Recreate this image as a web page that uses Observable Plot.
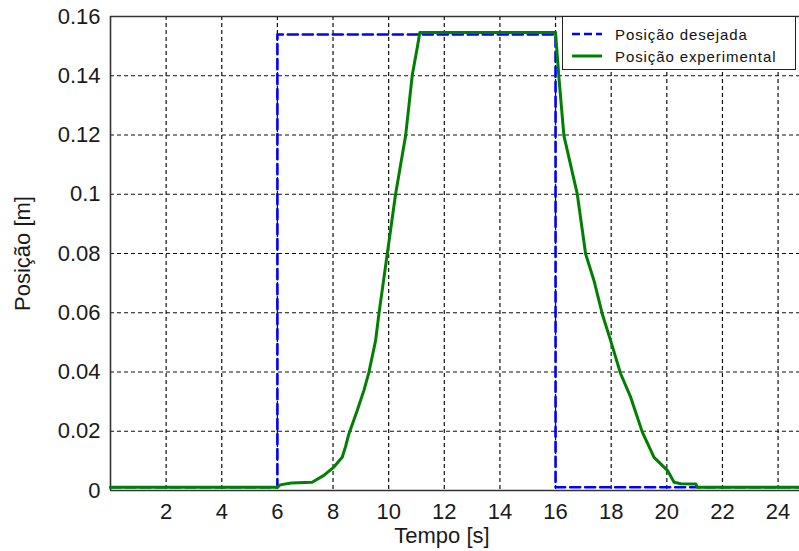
<!DOCTYPE html>
<html><head><meta charset="utf-8">
<script src="https://cdn.jsdelivr.net/npm/d3@7"></script>
<script src="https://cdn.jsdelivr.net/npm/@observablehq/plot@0.6"></script>
<style>
html,body{margin:0;padding:0;background:#fff;}
#wrap{position:relative;width:799px;height:551px;overflow:hidden;font-family:"Liberation Sans",Arial,sans-serif;}
#legend{position:absolute;left:562px;top:16px;width:232px;height:52px;border:1.5px solid #222;background:#fff;}
.row{position:absolute;left:0;height:20px;display:flex;align-items:center;font-size:15px;color:#111;letter-spacing:0.9px;white-space:nowrap;}
.row svg{margin-left:9px;margin-right:13px;}
</style></head>
<body><div id="wrap"></div>
<script>
const tempoDesejada = [0, 6, 6, 16, 16, 24.77];
const posDesejada   = [0.0011, 0.0011, 0.1539, 0.1539, 0.0011, 0.0011];

const tempoExp = [0, 6.0, 6.1, 6.5, 7.25, 7.67, 8.03, 8.33, 8.45, 8.57, 8.87, 9.11, 9.29, 9.53, 9.65, 9.95, 10.25, 10.61, 10.85, 11.03, 11.12,
  16.0, 16.12, 16.3, 16.78, 17.08, 17.38, 17.68, 17.98, 18.34, 18.7, 19.12, 19.54, 20.02, 20.26, 20.5, 21.04, 21.1, 24.77];
const posExp = [0.0011, 0.0011, 0.0019, 0.0025, 0.0028, 0.0051, 0.0079, 0.0112, 0.0148, 0.0191, 0.027, 0.0338, 0.0399, 0.0506, 0.0596, 0.0799, 0.1001, 0.1198, 0.1403, 0.1496, 0.1546,
  0.1546, 0.1395, 0.1198, 0.1001, 0.0799, 0.0709, 0.0596, 0.0506, 0.0394, 0.0315, 0.0197, 0.0112, 0.0068, 0.0028, 0.0023, 0.0022, 0.0011, 0.0011];

const xTicks = [2, 4, 6, 8, 10, 12, 14, 16, 18, 20, 22, 24];
const yTicks = [0, 0.02, 0.04, 0.06, 0.08, 0.1, 0.12, 0.14, 0.16];
const yTickLabels = ["0", "0.02", "0.04", "0.06", "0.08", "0.1", "0.12", "0.14", "0.16"];
const xDomain = [0, 24.77];
const yDomain = [0, 0.16];
const seriesNames = ["Posição desejada", "Posição experimental"];
const seriesColors = ["#0000ff", "#008000"];

const desejada = tempoDesejada.map((t, i) => ({t, p: posDesejada[i]}));
const experimental = tempoExp.map((t, i) => ({t, p: posExp[i]}));

const plot = Plot.plot({
  width: 799, height: 551,
  marginLeft: 110, marginRight: 0, marginTop: 16, marginBottom: 61,
  style: {fontFamily: '"Liberation Sans", Arial, sans-serif', fontSize: "22px", color: "#1a1a1a", background: "#fff"},
  x: {domain: xDomain},
  y: {domain: yDomain},
  marks: [
    Plot.gridX(xTicks, {stroke: "#111", strokeOpacity: 1, strokeWidth: 1.2, strokeDasharray: "4,3"}),
    Plot.gridY(yTicks.slice(1, -1), {stroke: "#111", strokeOpacity: 1, strokeWidth: 1.2, strokeDasharray: "4,3"}),
    Plot.ruleY([yDomain[0]], {stroke: "#333", strokeWidth: 1.6}),
    Plot.ruleY([yDomain[1]], {stroke: "#333", strokeWidth: 1.6}),
    Plot.ruleX([xDomain[0]], {stroke: "#333", strokeWidth: 1.6}),
    Plot.axisX(xTicks, {tickSize: 0, tickPadding: 13, label: "Tempo [s]", labelAnchor: "center", labelArrow: "none", labelOffset: 52}),
    Plot.axisY(yTicks, {tickSize: 0, tickPadding: 10, tickFormat: (d, i) => yTickLabels[i], label: "Posição [m]", labelAnchor: "center", labelArrow: "none", labelOffset: 96}),
    Plot.line(desejada, {x: "t", y: "p", stroke: seriesColors[0], strokeWidth: 2.6, strokeDasharray: "10,5"}),
    Plot.line(experimental, {x: "t", y: "p", stroke: seriesColors[1], strokeWidth: 3})
  ]
});
const wrap = document.getElementById("wrap");
wrap.appendChild(plot);
d3.select(plot).selectAll("g[aria-label='x-axis label'] text").attr("transform", function(){ return (d3.select(this).attr("transform")||"") + " translate(-13,0)"; });

const legend = document.createElement("div");
legend.id = "legend";
seriesNames.forEach((name, i) => {
  const row = document.createElement("div");
  row.className = "row";
  row.style.top = (i === 0 ? 7 : 29) + "px";
  row.innerHTML = `<svg width="30" height="6"><line x1="0" y1="3" x2="30" y2="3" stroke="${seriesColors[i]}" stroke-width="${i===0?2.6:3}" ${i===0?'stroke-dasharray="8,4"':''}/></svg><span>${name}</span>`;
  legend.appendChild(row);
});
wrap.appendChild(legend);
</script>
</body></html>
